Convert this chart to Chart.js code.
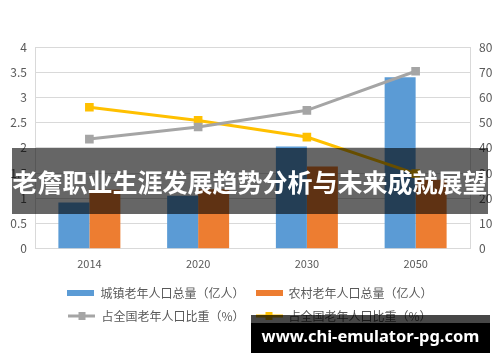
<!DOCTYPE html>
<html>
<head>
<meta charset="utf-8">
<script src="https://cdn.jsdelivr.net/npm/chart.js@4/dist/chart.umd.min.js"></script>
<style>
  html, body { margin: 0; padding: 0; background: #fff; }
  #wrap { position: relative; width: 500px; height: 362px; overflow: hidden; }
  #banner {
    position: absolute; left: 12px; top: 148px; width: 476px; height: 66px;
    background: rgba(0, 0, 0, 0.6); color: #fff;
    font: bold 25px "Noto Sans CJK SC", sans-serif;
    line-height: 66px; text-align: center; white-space: nowrap;
  }
  #mark {
    position: absolute; left: 251px; top: 315px; width: 239px; height: 38px;
    background: linear-gradient(to bottom, rgba(0,0,0,0.72) 0, rgba(0,0,0,0.72) 8px, #000 8px);
    color: #fff; font: bold 16.5px "Noto Sans", sans-serif;
    line-height: 42px; text-align: center; white-space: nowrap;
  }
</style>
</head>
<body>
<div id="wrap">
  <canvas id="chart" width="500" height="362"></canvas>
  <div id="banner">老詹职业生涯发展趋势分析与未来成就展望</div>
  <div id="mark">www.chi-emulator-pg.com</div>
</div>
<script>
const years = ['2014', '2020', '2030', '2050'];
const urbanTotal = [0.92, 1.05, 2.03, 3.40];
const ruralTotal = [1.17, 1.18, 1.63, 1.37];
const urbanShare = [43.5, 48.3, 54.9, 70.4];
const ruralShare = [56.1, 50.9, 44.3, 29.8];
const leftTicks = [0, 0.5, 1, 1.5, 2, 2.5, 3, 3.5, 4];
const rightTicks = [0, 10, 20, 30, 40, 50, 60, 70, 80];

const FONT = '"Noto Sans CJK SC", sans-serif';
const TEXT = '#595959';

// small canvases used as legend symbols
function barIcon(color) {
    const c = document.createElement('canvas');
    c.width = 27; c.height = 6;
    const g = c.getContext('2d');
    g.fillStyle = color;
    g.fillRect(0, 0, 27, 6);
    return c;
}
function lineIcon(color) {
    const c = document.createElement('canvas');
    c.width = 27; c.height = 8;
    const g = c.getContext('2d');
    g.fillStyle = color;
    g.fillRect(0, 2.5, 27, 3);
    g.fillRect(10, 0, 7, 8);
    return c;
}

const ctx = document.getElementById('chart').getContext('2d');
new Chart(ctx, {
    data: {
        labels: years,
        datasets: [{
            type: 'bar',
            label: '城镇老年人口总量（亿人）',
            data: urbanTotal,
            backgroundColor: '#5b9bd5',
            yAxisID: 'y',
            order: 1
        }, {
            type: 'bar',
            label: '农村老年人口总量（亿人）',
            data: ruralTotal,
            backgroundColor: '#ed7d31',
            yAxisID: 'y',
            order: 1
        }, {
            type: 'line',
            label: '占全国老年人口比重（%）',
            data: urbanShare,
            borderColor: '#a5a5a5',
            backgroundColor: '#a5a5a5',
            borderWidth: 3,
            pointStyle: 'rect',
            pointRadius: 4,
            yAxisID: 'y1',
            order: 0
        }, {
            type: 'line',
            label: '占全国老年人口比重（%）',
            data: ruralShare,
            borderColor: '#ffc000',
            backgroundColor: '#ffc000',
            borderWidth: 3,
            pointStyle: 'rect',
            pointRadius: 4,
            yAxisID: 'y1',
            order: 0
        }]
    },
    options: {
        responsive: false,
        animation: false,
        layout: { padding: { top: 47, left: 0, right: 0, bottom: 30 } },
        datasets: {
            bar: { categoryPercentage: 0.57, barPercentage: 1.0 }
        },
        plugins: {
            tooltip: { enabled: false },
            legend: {
                position: 'bottom',
                labels: {
                    usePointStyle: true,
                    pointStyleWidth: 27,
                    color: TEXT,
                    font: { family: FONT, size: 12 },
                    padding: 11,
                    sort: (a, b) => a.datasetIndex - b.datasetIndex,
                    generateLabels: (chart) => chart.data.datasets.map((ds, i) => ({
                        text: ds.label,
                        datasetIndex: i,
                        pointStyle: ds.type === 'line' ? lineIcon(ds.borderColor) : barIcon(ds.backgroundColor),
                        fillStyle: ds.backgroundColor,
                        strokeStyle: ds.backgroundColor,
                        lineWidth: 0,
                        fontColor: TEXT,
                        hidden: false
                    }))
                }
            }
        },
        scales: {
            x: {
                grid: { display: false },
                border: { color: '#d9d9d9' },
                afterFit: (s) => { s.height += 6; },
                ticks: { color: TEXT, font: { family: FONT, size: 11 }, padding: 0 }
            },
            y: {
                position: 'left',
                min: 0, max: 4,
                afterBuildTicks: (s) => { s.ticks = leftTicks.map(v => ({ value: v })); },
                afterFit: (s) => { s.width = 35; },
                grid: { color: '#d9d9d9', drawTicks: false },
                border: { color: '#d9d9d9' },
                ticks: { color: TEXT, font: { family: FONT, size: 12 }, padding: 8, callback: (v) => String(v) }
            },
            y1: {
                position: 'right',
                min: 0, max: 80,
                afterBuildTicks: (s) => { s.ticks = rightTicks.map(v => ({ value: v })); },
                afterFit: (s) => { s.width = 30; },
                grid: { display: false, drawTicks: false },
                border: { color: '#d9d9d9' },
                ticks: { color: TEXT, font: { family: FONT, size: 12 }, padding: 9, callback: (v) => String(v) }
            }
        }
    }
});
</script>
</body>
</html>
